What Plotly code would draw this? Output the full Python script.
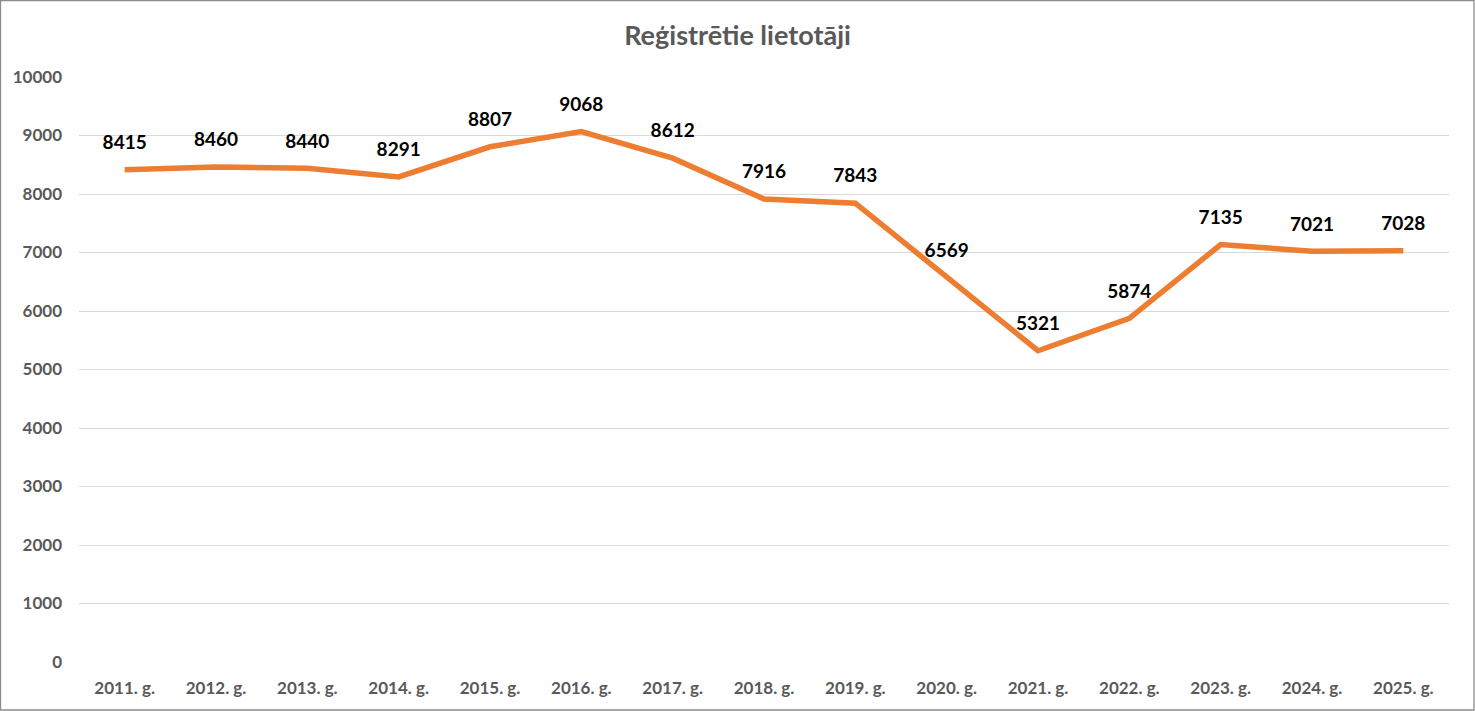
import plotly.graph_objects as go

years = ["2011. g.", "2012. g.", "2013. g.", "2014. g.", "2015. g.", "2016. g.", "2017. g.",
         "2018. g.", "2019. g.", "2020. g.", "2021. g.", "2022. g.", "2023. g.", "2024. g.", "2025. g."]
users = [8415, 8460, 8440, 8291, 8807, 9068, 8612, 7916, 7843, 6569, 5321, 5874, 7135, 7021, 7028]
y_ticks = [0, 1000, 2000, 3000, 4000, 5000, 6000, 7000, 8000, 9000, 10000]

W, H = 1475, 711
ml, mr, mt, mb = 79, 26, 77, 49
pw, ph = W - ml - mr, H - mt - mb

fig = go.Figure()
fig.add_trace(go.Scatter(
    x=years, y=users, mode="lines+markers+text",
    line=dict(color="#ED7D31", width=5.5),
    marker=dict(size=24, color="rgba(0,0,0,0)"),
    text=[str(v) for v in users], textposition="top center",
    textfont=dict(family="Lato", size=19, color="#000000", weight="bold"),
    cliponaxis=False, hoverinfo="x+y", showlegend=False,
))

fig.update_layout(
    width=W, height=H,
    margin=dict(l=ml, r=mr, t=mt, b=mb),
    paper_bgcolor="white", plot_bgcolor="white",
    title=dict(text="<b>Reģistrētie lietotāji</b>", x=0.5, xanchor="center", y=1 - 36 / H, yanchor="middle",
               font=dict(family="Lato", size=27, color="#595959")),
    xaxis=dict(type="category", range=[-0.5, 14.5], showgrid=False, zeroline=False, showline=False,
               ticks="", ticklabelstandoff=14,
               tickfont=dict(family="Lato", size=17, color="#595959", weight="bold")),
    yaxis=dict(range=[0, 10000], tickvals=y_ticks, ticktext=[str(t) for t in y_ticks],
               showgrid=True, gridcolor="#D9D9D9", gridwidth=1.3, zeroline=False, showline=False,
               ticks="", ticklabelstandoff=16,
               tickfont=dict(family="Lato", size=17, color="#595959", weight="bold")),
    shapes=[dict(type="rect", xref="paper", yref="paper",
                 x0=(0.5 - ml) / pw, x1=1 + (mr - 1) / pw,
                 y0=-(mb - 1) / ph, y1=1 + (mt - 0.5) / ph,
                 line=dict(color="#8C8C8C", width=1.3), fillcolor="rgba(0,0,0,0)", layer="below")],
)

fig.write_html("out.html", config={"displayModeBar": False},
               post_script="document.body.style.margin='0';document.body.style.overflow='hidden';")
